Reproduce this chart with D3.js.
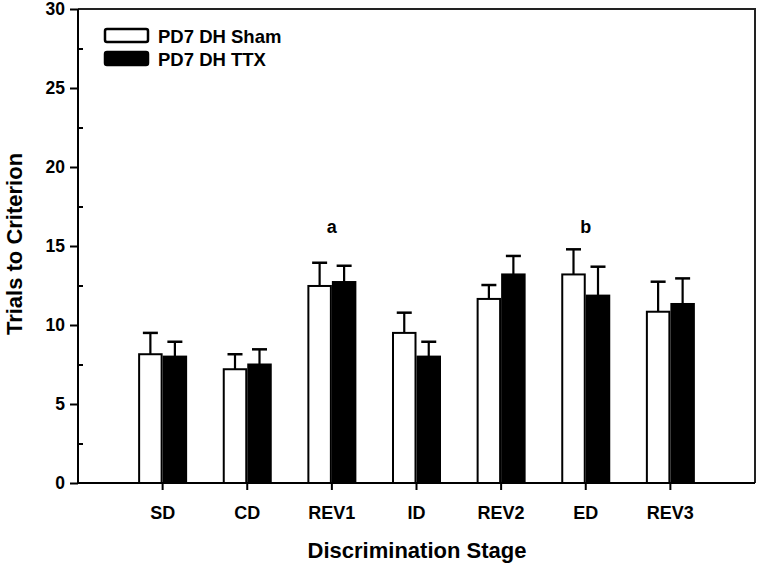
<!DOCTYPE html>
<html><head><meta charset="utf-8">
<script src="https://cdn.jsdelivr.net/npm/d3@7"></script>
<style>body{margin:0;background:#fff}svg{display:block}text{font-family:"Liberation Sans",Arial,sans-serif;font-weight:bold;fill:#000}</style>
</head><body><svg id="c" width="760" height="568"></svg>
<script>
const categories = ["SD","CD","REV1","ID","REV2","ED","REV3"];
const seriesNames = ["PD7 DH Sham","PD7 DH TTX"];
const shamMean = [8.15, 7.2, 12.47, 9.5, 11.65, 13.2, 10.84];
const shamErr  = [1.35, 0.95, 1.47, 1.28, 0.88, 1.59, 1.9];
const ttxMean  = [8.0, 7.5, 12.72, 8.0, 13.2, 11.86, 11.33];
const ttxErr   = [0.94, 0.96, 1.03, 0.94, 1.17, 1.83, 1.62];
const yTicks = [0,5,10,15,20,25,30];
const yMinorTicks = [2.5,7.5,12.5,17.5,22.5,27.5];
const annotations = [{cat:"REV1", label:"a"},{cat:"ED", label:"b"}];

const svg = d3.select("#c");
const L=78, R=755, T=9, B=483;
const x = d3.scaleBand().domain(categories).range([L,R]).paddingInner(0).paddingOuter(0.5);
const xs = d3.scaleBand().domain([0,1]).range([0,49]).padding(0);
const y = d3.scaleLinear().domain([0,30]).range([B,T]);

const series = [
  {mean: shamMean, err: shamErr, fill:"#fff"},
  {mean: ttxMean, err: ttxErr, fill:"#000"}
];
const off = x.bandwidth()/2 - 24.5;

// error bars (upward only)
series.forEach((s,si)=>{
  const g = svg.append("g");
  categories.forEach((c,i)=>{
    const cx = x(c)+off+xs(si)+xs.bandwidth()/2;
    g.append("line").attr("x1",cx).attr("x2",cx).attr("y1",y(s.mean[i])).attr("y2",y(s.mean[i]+s.err[i])).attr("stroke","#000").attr("stroke-width",2.2);
    g.append("line").attr("x1",cx-7.5).attr("x2",cx+7.5).attr("y1",y(s.mean[i]+s.err[i])).attr("y2",y(s.mean[i]+s.err[i])).attr("stroke","#000").attr("stroke-width",2.5);
  });
});
// bars
series.forEach((s,si)=>{
  svg.append("g").selectAll("rect").data(categories).join("rect")
    .attr("x",c=>x(c)+off+xs(si)+1)
    .attr("width",xs.bandwidth()-2)
    .attr("y",(c,i)=>y(s.mean[i]))
    .attr("height",(c,i)=>y(0)-y(s.mean[i]))
    .attr("fill",s.fill).attr("stroke","#000").attr("stroke-width",2);
});

// frame top/right
svg.append("path").attr("d",`M${L},${T}H${R}V${B}`).attr("fill","none").attr("stroke","#222").attr("stroke-width",2);

// y axis
const ya = svg.append("g").attr("transform",`translate(${L},0)`)
  .call(d3.axisLeft(y).tickValues(yTicks).tickSize(8).tickPadding(5).tickFormat(d3.format("d")));
ya.select(".domain").attr("stroke","#000").attr("stroke-width",2).attr("d",`M0,${B}V${T}`);
ya.selectAll(".tick line").attr("stroke","#000").attr("stroke-width",2);
ya.selectAll("text").style("font-size","17.5px");
const ym = svg.append("g").attr("transform",`translate(${L},0)`)
  .call(d3.axisRight(y).tickValues(yMinorTicks).tickSize(5).tickFormat(""));
ym.select(".domain").remove();
ym.selectAll(".tick line").attr("stroke","#000").attr("stroke-width",2);

// x axis
const xa = svg.append("g").attr("transform",`translate(0,${B})`)
  .call(d3.axisBottom(x).tickSize(7).tickPadding(16));
xa.select(".domain").attr("stroke","#000").attr("stroke-width",2).attr("d",`M${L},0H${R}`);
xa.selectAll(".tick line").attr("stroke","#000").attr("stroke-width",2);
xa.selectAll("text").style("font-size","18px");

// axis titles
svg.append("text").attr("x",417).attr("y",558).attr("text-anchor","middle").style("font-size","22px").text("Discrimination Stage");
svg.append("text").attr("transform","translate(22,244) rotate(-90)").attr("text-anchor","middle").style("font-size","22px").text("Trials to Criterion");

// annotations
annotations.forEach(a=>{
  svg.append("text").attr("x",x(a.cat)+x.bandwidth()/2).attr("y",233).attr("text-anchor","middle").style("font-size","18px").text(a.label);
});

// legend
const lg = svg.append("g");
series.forEach((s,si)=>{
  lg.append("rect").attr("x",105).attr("y",29+si*23).attr("width",43).attr("height",13).attr("rx",2)
    .attr("fill",s.fill).attr("stroke","#000").attr("stroke-width",2.5);
  lg.append("text").attr("x",158).attr("y",43+si*23).style("font-size","18.5px").text(seriesNames[si]);
});
</script></body></html>
